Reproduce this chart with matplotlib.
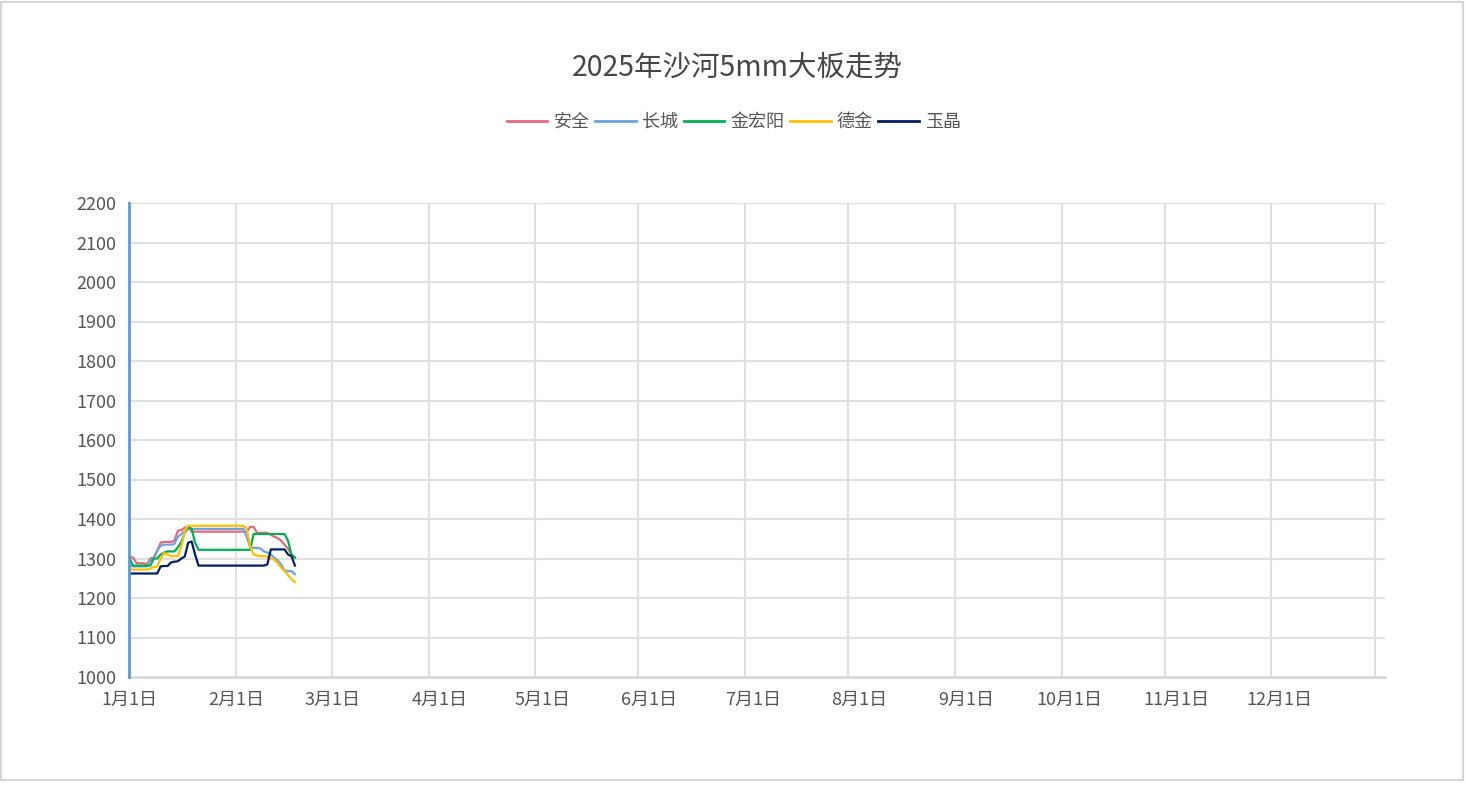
import matplotlib
matplotlib.use("Agg")
import matplotlib.pyplot as plt
from matplotlib.patches import Rectangle
import numpy as np
import pandas as pd

plt.rcParams['font.family'] = ['Noto Sans CJK SC', 'DejaVu Sans']

title = "2025年沙河5mm大板走势"
series_names = ["安全", "长城", "金宏阳", "德金", "玉晶"]
colors = ["#e6677b", "#6ba4de", "#00b050", "#ffc000", "#002060"]

dates = pd.date_range("2025-01-01", "2025-02-18", freq="D")

anquan = [1305, 1302, 1288, 1288, 1288, 1285, 1300, 1302, 1320, 1340,
          1342, 1342, 1342, 1345, 1370, 1372, 1378, 1380, 1368, 1368,
          1368, 1368, 1368, 1368, 1368, 1368, 1368, 1368, 1368, 1368,
          1368, 1368, 1368, 1368, 1368, 1380, 1380, 1365, 1365, 1365,
          1365, 1360, 1355, 1352, 1345, 1335, 1325, 1310, 1303]
changcheng = [1282, 1280, 1280, 1280, 1280, 1280, 1295, 1300, 1320, 1332,
              1335, 1335, 1335, 1337, 1355, 1362, 1370, 1375, 1375, 1375,
              1375, 1375, 1375, 1375, 1375, 1375, 1375, 1375, 1375, 1375,
              1375, 1375, 1375, 1375, 1355, 1328, 1327, 1327, 1325, 1318,
              1315, 1310, 1302, 1295, 1285, 1270, 1268, 1268, 1260]
jinhongyang = [1300, 1282, 1282, 1282, 1282, 1282, 1282, 1300, 1300, 1310,
               1315, 1318, 1318, 1318, 1328, 1342, 1365, 1380, 1375, 1340,
               1322, 1322, 1322, 1322, 1322, 1322, 1322, 1322, 1322, 1322,
               1322, 1322, 1322, 1322, 1322, 1322, 1362, 1362, 1362, 1362,
               1362, 1362, 1362, 1362, 1362, 1362, 1345, 1310, 1302]
dejin = [1272, 1272, 1272, 1272, 1272, 1272, 1275, 1278, 1280, 1300,
         1314, 1310, 1306, 1306, 1306, 1330, 1370, 1383, 1383, 1383,
         1383, 1383, 1383, 1383, 1383, 1383, 1383, 1383, 1383, 1383,
         1383, 1383, 1383, 1383, 1375, 1330, 1310, 1308, 1306, 1306,
         1305, 1300, 1297, 1288, 1277, 1268, 1258, 1248, 1240]
yujing = [1262, 1262, 1262, 1262, 1262, 1262, 1262, 1262, 1262, 1280,
          1281, 1281, 1290, 1292, 1293, 1300, 1305, 1340, 1343, 1310,
          1282, 1282, 1282, 1282, 1282, 1282, 1282, 1282, 1282, 1282,
          1282, 1282, 1282, 1282, 1282, 1282, 1282, 1282, 1282, 1282,
          1285, 1323, 1323, 1323, 1323, 1323, 1310, 1306, 1282]
all_series = [anquan, changcheng, jinhongyang, dejin, yujing]

month_ticks = pd.date_range("2025-01-01", "2025-12-01", freq="MS")
month_labels = [f"{d.month}月1日" for d in month_ticks]
y_ticks = list(range(1000, 2201, 100))
# vertical split lines (days after 1 Jan), as drawn by the original chart
split_days = [30.8, 58.7, 86.9, 117.7, 147.6, 178.7, 208.6, 239.7,
              270.8, 300.7, 331.5, 361.7]

W, H = 1466, 795
fig = plt.figure(figsize=(W / 100, H / 100), dpi=100)
fig.patch.set_facecolor("white")

fig.patches.append(Rectangle((1 / W, 1 - 780 / H), 1462 / W, 778 / H,
                             transform=fig.transFigure, fill=False,
                             edgecolor="#d6d6d6", linewidth=1.5))

ax = fig.add_axes([129 / W, 1 - 677 / H, (1385 - 129) / W, (677 - 203) / H])

for name, vals, c in zip(series_names, all_series, colors):
    ax.plot(dates, vals, color=c, linewidth=1.6, label=name)

ax.set_ylim(1000, 2200)
ax.set_yticks(y_ticks)
x0 = pd.Timestamp("2025-01-01")
ax.set_xlim(x0 - pd.Timedelta(days=0.2), x0 + pd.Timedelta(days=364.7))

for sd in split_days:
    ax.axvline(x0 + pd.Timedelta(days=sd), color="#e0e0e0", linewidth=1.5, zorder=0)
for gy in y_ticks[1:]:
    ax.axhline(gy, color="#e0e0e0", linewidth=1.5, zorder=0)

ax.set_xticks(month_ticks)
ax.set_xticklabels(month_labels)

for s in ["top", "right"]:
    ax.spines[s].set_visible(False)
ax.spines["left"].set_color("#5b9bd5")
ax.spines["left"].set_linewidth(2)
ax.spines["bottom"].set_color("#d9d9d9")
ax.spines["bottom"].set_linewidth(2)
ax.spines["left"].set_zorder(5)

ax.tick_params(axis="both", length=0, labelsize=13, labelcolor="#555555")
ax.tick_params(axis="y", pad=9)
ax.tick_params(axis="x", pad=10)

fig.text(737 / W, 1 - 68 / H, title, ha="center", va="center",
         fontsize=20.5, color="#464646")

leg = fig.legend(loc="center", bbox_to_anchor=(734 / W, 1 - 122 / H), ncol=5,
                 frameon=False, fontsize=13, handlelength=2.25,
                 handletextpad=0.35, columnspacing=0.3, labelcolor="#555555")
for l in leg.get_lines():
    l.set_linewidth(2)

fig.savefig("out.png", dpi=100)
